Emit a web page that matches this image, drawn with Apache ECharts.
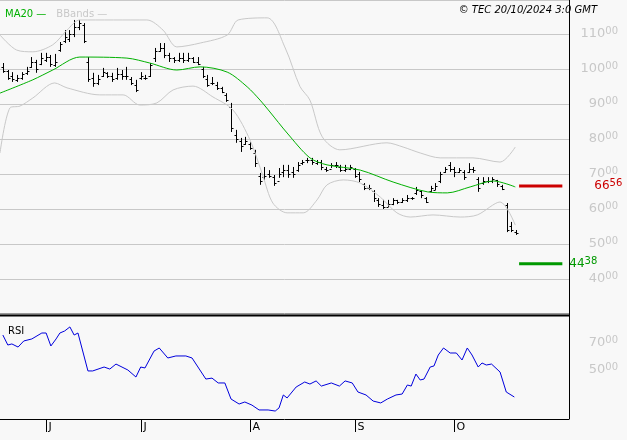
<!DOCTYPE html>
<html><head><meta charset="utf-8">
<script src="https://cdn.jsdelivr.net/npm/echarts@6/dist/echarts.min.js"></script>
<style>html,body{margin:0;padding:0;background:#f8f8f8}#c{width:627px;height:440px}</style>
</head><body><div id="c"></div>
<script>
const high=[101.7,99.7,99.1,98.3,99.1,100.6,103.4,102.6,104.6,104.6,104,104.3,107.7,111.1,111.1,114,114,113.1,103.4,98.9,98.3,100.3,99.1,98.9,100.3,99.7,100.6,97.7,96.9,99.1,98.3,101.7,106,107.4,107.4,104.6,103.4,104.6,104.6,104.6,103.4,103.4,100.6,98.3,97.7,96.3,94.9,93.1,90.3,82.6,80.3,80.6,79.1,76.9,70.3,72,71.1,69.7,71.7,72.6,72.6,72,73.4,74,74.6,74.6,74,74,72,73.1,73.4,72.6,72.6,72.6,71.7,70.6,67.4,66.9,65.4,63.1,62.6,62.6,63.1,62.6,63.1,64,63.4,66.3,65.4,63.4,66.6,67.4,70.6,72,73.4,72,71.7,71.1,73.1,72,69.1,69.1,69.1,69.1,68.3,66.9,61.7,56.3,54];
const low=[98.9,96.9,96.3,96.3,96.9,98.3,100.3,98.9,101.1,102,100.6,100.6,104.9,107.4,107.7,109.1,111.1,107.4,96.3,94.9,95.4,97.7,97.4,96.3,96.9,96.9,96.9,95.4,93.4,96.9,96.9,97.7,102,104.9,103.1,102,101.7,102,101.7,102,101.7,101.1,97.4,94.9,95.4,94,93.1,90.6,82,78.9,76.3,78.3,76.9,72,66.9,68.3,68.9,66.6,68.9,69.1,68.9,68.9,70.6,72.6,73.1,72.6,72.6,71.1,70.6,71.7,71.7,70.6,70.6,71.1,68.9,67.7,65.4,65.4,62,60.6,60,60.6,61.1,61.4,61.7,62,62.6,64,63.1,61.7,64.9,65.4,67.4,70.3,70.6,69.1,70.3,68.3,70.3,70.3,64.9,66.9,67.4,67.4,66.3,65.4,53.4,53.4,52.6];
const close=[99.5,97.5,97,97.5,98.5,99.5,102,100,103,103.5,101.5,102,107,109,110,112,113,108,97,96,97,99,98,97,98.5,98,98,96,94,98,97.5,101,105,106,104,103,102.5,103,102.5,103,102,101.5,98,95.5,96,94.5,93.5,91,83,80,78,79.5,77.5,73,68,69.5,69.5,67.5,70,71,70,70,72.5,73.5,74,73.5,73.5,72,71,72.5,72.5,71,71.5,72,69.5,68.5,66,66,63,61.5,60.5,61.5,62.5,62,62.5,63,63,65.5,64,62,66,66.5,70,71.5,71.5,70.5,71,69,71.5,71,66,68,68,68.5,67,65.8,54,54,53];
const open=[100.5,99.5,98,96.8,97.5,98.8,100.5,102,101.5,102.5,103.5,101,105.5,108,108.5,110,112,112.5,102,97.5,96,98,98.8,98,97.5,98.5,98,97,95.5,97.5,97.5,98,103,105,106,104,103,102.5,103,102.5,103,102,100,97,96,95.5,94.5,92.5,89,81,79.5,78.5,78.5,76,69.5,69,70,69,68,70.5,71,70.5,71,73,74,74,73,73.5,71.5,71.5,72.5,72,71,71.5,71.5,70,67,66,65,62.5,61,60.5,61.5,62.5,62,62.5,63,64.5,65,63,65,65.5,68,70.5,72.5,71.5,70.5,70.5,70.5,71.5,68.5,67.5,68,68,68.3,66.5,61,55,53.5];
const ma20=[[-0.6,93.1],[6.3,96.9],[10.5,99.7],[16.2,103.4],[26.1,103.1],[30.9,101.7],[36.6,99.7],[41.5,100.6],[47.2,99.1],[51.4,94.9],[54.1,91.1],[56.2,87.7],[59.8,81.7],[64.6,74.6],[68.2,72.6],[75.2,71.1],[82.1,67.7],[89.3,64.9],[93.5,64.6],[98.3,66.3],[103.2,68],[107.8,66.3]];
const bbUp=[[-0.6,109.7],[2.9,105.4],[6.3,104.9],[10.5,106.9],[13.5,111.1],[16.2,114],[30.3,114],[33.7,111.1],[36.6,106.3],[41.5,107.4],[47.2,109.7],[49.5,114],[55.6,114.6],[59.4,106],[62.5,95],[64.6,91.1],[67.2,80.6],[70.9,76.9],[80.8,78.9],[84.2,77.7],[87.8,76],[92,74.6],[98.9,74.6],[104.6,73.4],[107.8,77.7]];
const bbLow=[[-0.6,76],[1.5,88.9],[3.6,89.4],[6.3,91.7],[10.9,96],[13.5,94.6],[20.4,92.6],[25.3,92.6],[28.8,89.7],[32.4,90.3],[35.8,94],[40,95.1],[44.2,92],[48.4,88.3],[52,79.7],[54.7,69.5],[56.8,61.7],[59.8,58.9],[63.2,58.9],[66.1,62.6],[68.2,66.9],[71.6,68.3],[75.2,67.4],[79.4,63.4],[82.9,58.9],[85.7,57.7],[90.5,58.3],[96.2,57.7],[99.8,58.3],[104.6,62],[107.8,55.4]];
const rsi=[[0,75.9],[1.05,68.5],[1.9,69.3],[3.2,67],[4.4,71.5],[6.1,73],[8.2,77.4],[9.1,77.4],[10.1,67.8],[11.2,73],[12,77.4],[13,78.9],[14.1,81.9],[15,75.9],[15.8,77.4],[17.9,49.3],[18.9,49.3],[21.3,52.2],[22.5,50.7],[23.8,54.4],[26.3,50],[28,44.8],[29,52.2],[29.9,51.5],[31.8,64],[32.9,66.3],[34.7,58.9],[36.4,60.4],[38.5,60.4],[39.8,58.9],[42.7,43.3],[44,44],[45.3,40.4],[46.7,40.4],[48,28.5],[49.7,24.8],[50.9,26.3],[52.4,24],[53.9,20.4],[55.8,20.4],[57.3,19.6],[58.1,21.9],[59,31.5],[59.8,29.3],[61.7,37.4],[63.5,41.1],[64.6,39.6],[65.9,41.9],[67,38.1],[69.1,40.4],[70.8,38.1],[72,41.9],[73.5,40.4],[74.7,33.7],[76.4,31.5],[77.9,27],[79.5,25.6],[80.9,28.5],[82.7,31.5],[84,32.2],[85.1,38.9],[85.9,38.1],[86.9,47],[87.8,42.6],[88.6,43.3],[89.9,52.2],[90.7,53],[91.6,61.1],[92.7,66.3],[94.1,62.6],[95.4,62.6],[96.6,57.4],[97.7,66.3],[98.7,61.1],[100,52.2],[100.8,55.2],[101.7,53.7],[102.8,54.4],[104.6,48.5],[105.9,33.7],[107.6,30]];
const monthIdx=[9,29,52,74,95];
const monthLabels=['J','J','A','S','O'];
const resistance=66.56, support=44.38;
const levelSpan=[108.6,117.7];

const chart=echarts.init(document.getElementById('c'));
const priceIdx=high.map((h,i)=>i);
const rich={a:{fontSize:13,color:'#c8c8c8',fontFamily:'DejaVu Sans'},b:{fontSize:10,color:'#c8c8c8',fontFamily:'DejaVu Sans',verticalAlign:'top',padding:[0,0,6,0]}};
function lvlFmt(v){const s=v.toFixed(2).split('.');return [s[0],s[1]];}
chart.setOption({
  backgroundColor:'#f8f8f8',animation:false,
  title:[
    {text:'{g|MA20 —}  {l|BBands —}',left:0,top:0,textStyle:{fontWeight:'normal',rich:{g:{color:'#00b000',fontSize:10,fontWeight:'normal',fontFamily:'DejaVu Sans'},l:{color:'#c8c8c8',fontSize:10,fontWeight:'normal',fontFamily:'DejaVu Sans'}}}},
    {text:'© TEC 20/10/2024 3:0 GMT',right:25,top:0,textStyle:{fontSize:10,fontStyle:'italic',fontWeight:'normal',color:'#000',fontFamily:'DejaVu Sans'}},
    {text:'RSI',left:3,top:321,textStyle:{fontSize:10,fontWeight:'normal',color:'#000',fontFamily:'DejaVu Sans'}}
  ],
  grid:[{left:0,right:58,top:0,height:314},{left:0,right:58,top:316,height:108}],
  xAxis:[
    {type:'value',gridIndex:0,min:-0.6,max:119.1,show:false},
    {type:'value',gridIndex:1,min:-0.6,max:119.1,show:false}
  ],
  yAxis:[
    {type:'value',gridIndex:0,position:'right',min:30,max:119.7,interval:10,
     axisLine:{show:false},axisTick:{show:false},
     splitLine:{lineStyle:{color:'#c8c8c8',width:1}},
     axisLabel:{align:'right',margin:49,formatter:v=>(v<40||v>110)?'':'{a|'+v+'}{b|00}',rich:rich}},
    {type:'value',gridIndex:1,position:'right',min:10,max:90,interval:10,
     axisLine:{show:false},axisTick:{show:false},splitLine:{show:false},
     axisLabel:{align:'right',margin:49,formatter:v=>(v===50||v===70)?'{a|'+v+'}{b|00}':'',rich:rich}}
  ],
  series:[
    {type:'line',xAxisIndex:0,yAxisIndex:0,data:bbUp,symbol:'none',smooth:0.3,lineStyle:{color:'#c8c8c8',width:1}},
    {type:'line',xAxisIndex:0,yAxisIndex:0,data:bbLow,symbol:'none',smooth:0.3,lineStyle:{color:'#c8c8c8',width:1}},
    {type:'line',xAxisIndex:0,yAxisIndex:0,data:ma20,symbol:'none',smooth:0.3,lineStyle:{color:'#00b000',width:1}},
    {type:'custom',xAxisIndex:0,yAxisIndex:0,data:priceIdx.map(i=>[i,open[i],close[i],low[i],high[i]]),
     renderItem:function(p,api){const i=api.value(0);const h=api.coord([i,api.value(4)]),l=api.coord([i,api.value(3)]),o=api.coord([i,api.value(1)]),c=api.coord([i,api.value(2)]);const x=Math.round(h[0])+0.5;
      return {type:'group',children:[
        {type:'line',shape:{x1:x,y1:h[1],x2:x,y2:l[1]},style:{stroke:'#000',lineWidth:1}},
        {type:'line',shape:{x1:x-2,y1:Math.round(o[1])+0.5,x2:x,y2:Math.round(o[1])+0.5},style:{stroke:'#000',lineWidth:1}},
        {type:'line',shape:{x1:x,y1:Math.round(c[1])+0.5,x2:x+2,y2:Math.round(c[1])+0.5},style:{stroke:'#000',lineWidth:1}}]};}},
    {type:'line',xAxisIndex:0,yAxisIndex:0,data:[[levelSpan[0],resistance],[levelSpan[1],resistance]],symbol:'none',lineStyle:{color:'#cc0000',width:3},
     endLabel:{show:true,distance:32,formatter:()=>{const s=lvlFmt(resistance);return '{a|'+s[0]+'}{b|'+s[1]+'}';},rich:{a:{fontSize:12,color:'#cc0000',fontFamily:'DejaVu Sans'},b:{fontSize:10,color:'#cc0000',fontFamily:'DejaVu Sans',verticalAlign:'top',padding:[0,0,5,0]}}}},
    {type:'line',xAxisIndex:0,yAxisIndex:0,data:[[levelSpan[0],support],[levelSpan[1],support]],symbol:'none',lineStyle:{color:'#009900',width:3},
     endLabel:{show:true,distance:7,formatter:()=>{const s=lvlFmt(support);return '{a|'+s[0]+'}{b|'+s[1]+'}';},rich:{a:{fontSize:12,color:'#009900',fontFamily:'DejaVu Sans'},b:{fontSize:10,color:'#009900',fontFamily:'DejaVu Sans',verticalAlign:'top',padding:[0,0,5,0]}}}},
    {type:'line',xAxisIndex:1,yAxisIndex:1,data:rsi,symbol:'none',lineStyle:{color:'#0000dd',width:1}},
    {type:'custom',xAxisIndex:1,yAxisIndex:1,clip:false,z:200,data:monthIdx.map((m,i)=>[m,13.7]),
     renderItem:function(p,api){const c=api.coord([api.value(0),api.value(1)]);const x=Math.round(c[0])+0.5;
      return {type:'group',children:[
        {type:'line',shape:{x1:x,y1:419,x2:x,y2:432},style:{stroke:'#000',lineWidth:1}},
        {type:'text',style:{x:x+2,y:433,text:monthLabels[p.dataIndex],fill:'#000',font:'11px DejaVu Sans',verticalAlign:'bottom'}}]};}}
  ],
  graphic:[
    {type:'line',shape:{x1:0,y1:313.5,x2:569,y2:313.5},style:{stroke:'#999',lineWidth:1},z:100},
    {type:'line',shape:{x1:0,y1:315.5,x2:569,y2:315.5},style:{stroke:'#000',lineWidth:2},z:100},
    {type:'line',shape:{x1:0,y1:419.5,x2:569,y2:419.5},style:{stroke:'#000',lineWidth:1},z:100},
    {type:'line',shape:{x1:569.5,y1:0,x2:569.5,y2:419.5},style:{stroke:'#000',lineWidth:1},z:100}
  ]
});
</script></body></html>
